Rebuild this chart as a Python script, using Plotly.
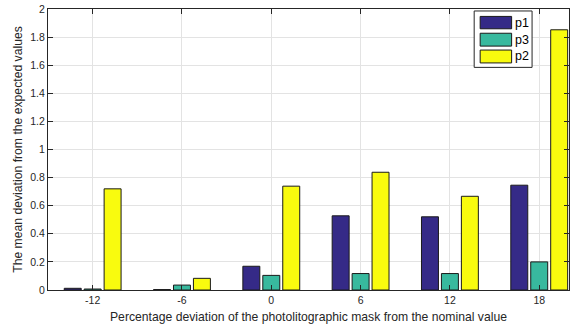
import plotly.graph_objects as go

categories = [-12, -6, 0, 6, 12, 18]
p1 = [0.012, 0.003, 0.169, 0.528, 0.521, 0.746]
p3 = [0.007, 0.035, 0.104, 0.117, 0.117, 0.200]
p2 = [0.720, 0.083, 0.739, 0.838, 0.667, 1.852]
y_ticks = [0, 0.2, 0.4, 0.6, 0.8, 1, 1.2, 1.4, 1.6, 1.8, 2]
series_names = ["p1", "p3", "p2"]
series_colors = ["#352a87", "#38b99e", "#f9fb0e"]

W, H = 573, 329
L, R, T, B = 48, 570, 6, 290

bar_w = 1.14
step = 1.34
offsets = [-step - bar_w / 2, -bar_w / 2, step - bar_w / 2]

fig = go.Figure()
for name, vals, col, off in zip(series_names, [p1, p3, p2], series_colors, offsets):
    fig.add_trace(go.Bar(
        x=categories, y=vals, name=name, width=bar_w, offset=off,
        marker=dict(color=col, line=dict(color="#1a1a1a", width=1)),
        showlegend=False,
    ))

def px(x):
    return (x - L) / (R - L)

def py(y):
    return (B - y) / (B - T)

shapes = []
annotations = []
# legend box
shapes.append(dict(type="rect", xref="paper", yref="paper",
                   x0=px(475), x1=px(533), y0=py(65), y1=py(8),
                   line=dict(color="#262626", width=1), fillcolor="white", layer="above"))
sw_y = [(13.5, 26), (30.5, 43.5), (47.5, 60.5)]
for (y0, y1), name, col in zip(sw_y, series_names, series_colors):
    shapes.append(dict(type="rect", xref="paper", yref="paper",
                       x0=px(481), x1=px(512.5), y0=py(y1), y1=py(y0),
                       line=dict(color="#1a1a1a", width=1), fillcolor=col, layer="above"))
    annotations.append(dict(xref="paper", yref="paper", x=px(514), y=py((y0 + y1) / 2),
                            text=name, showarrow=False, xanchor="left", yanchor="middle",
                            font=dict(family="Liberation Sans, Arial", size=12.5, color="#000")))

axis_font = dict(family="Liberation Sans, Arial", size=10.5, color="#262626")
title_font = dict(family="Liberation Sans, Arial", size=12.2, color="#262626")
fig.update_layout(
    width=W, height=H,
    margin=dict(l=L, r=W - R, t=T, b=H - B),
    paper_bgcolor="white", plot_bgcolor="white",
    barmode="overlay",
    shapes=shapes, annotations=annotations,
    xaxis=dict(range=[-15, 20], tickvals=categories, ticktext=[str(c) for c in categories],
               showgrid=True, gridcolor="#e3e3e3", gridwidth=1,
               showline=True, linecolor="#262626", linewidth=1, mirror="ticks",
               ticks="inside", ticklen=5, tickcolor="#262626",
               tickfont=axis_font, zeroline=False,
               title=dict(text="Percentage deviation of the photolitographic mask from the nominal value",
                          font=title_font, standoff=7)),
    yaxis=dict(range=[0, 2], tickvals=y_ticks, ticktext=[f"{v:g}" for v in y_ticks],
               showgrid=True, gridcolor="#e3e3e3", gridwidth=1,
               showline=True, linecolor="#262626", linewidth=1, mirror="ticks",
               ticks="inside", ticklen=5, tickcolor="#262626",
               tickfont=axis_font, zeroline=False, ticklabeloverflow="allow",
               title=dict(text="The mean deviation from the expected values",
                          font=title_font, standoff=5)),
)
fig.write_html("out.html")
